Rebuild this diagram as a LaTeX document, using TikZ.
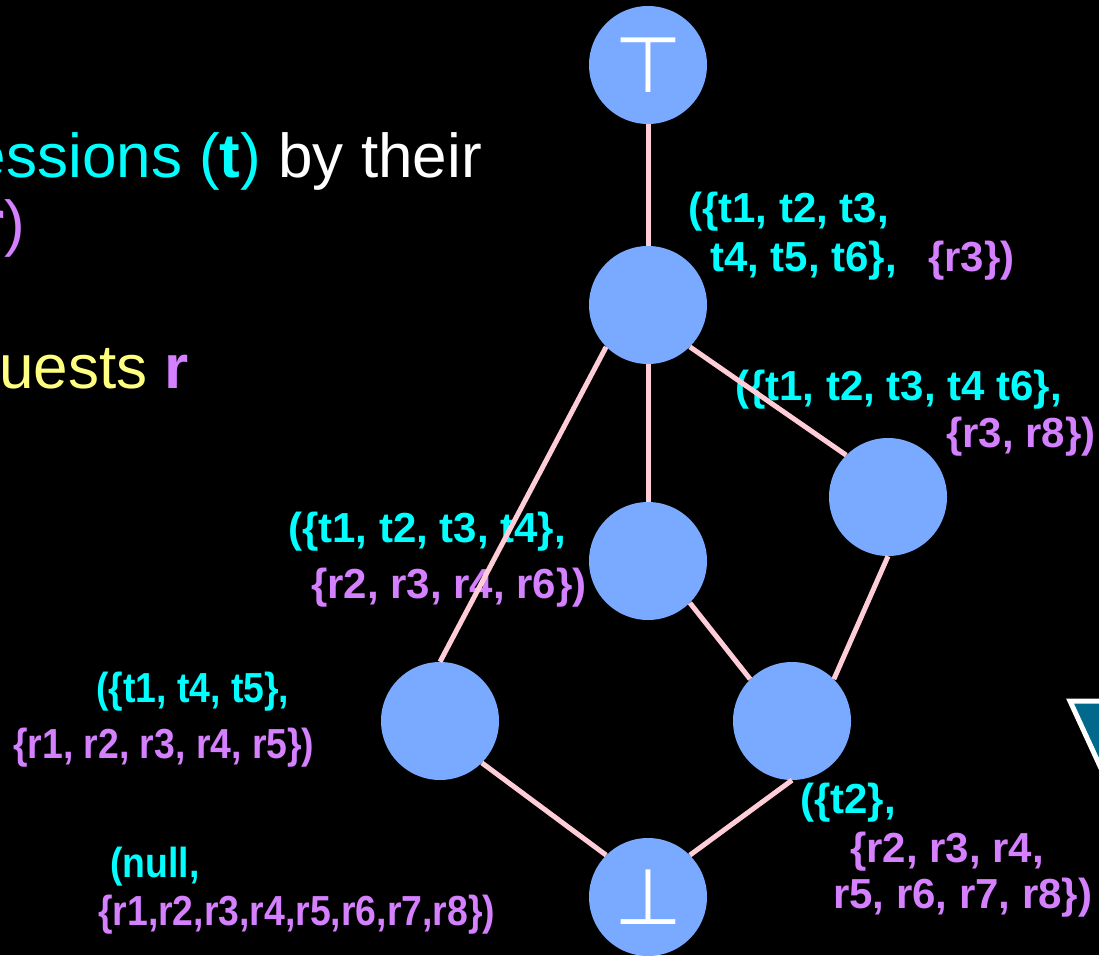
\documentclass[tikz,border=0pt]{standalone}
\usepackage{fontspec}
\setmainfont{Liberation Sans}
\newfontfamily\symfont{DejaVu Sans}
\newfontfamily\narrowfont[FakeStretch=0.89]{Liberation Sans}
\usetikzlibrary{positioning}
\definecolor{latcyan}{RGB}{0,255,255}
\definecolor{latpurple}{RGB}{213,128,255}
\definecolor{latyellow}{RGB}{255,255,128}
\definecolor{latblue}{RGB}{122,170,255}
\definecolor{latpink}{RGB}{255,205,215}
\definecolor{latteal}{RGB}{0,105,140}
\tikzset{
  latnode/.style={circle,fill=latblue,minimum size=118pt,inner sep=0pt,
    text=white,font=\symfont\fontsize{78}{78}\selectfont},
  latedge/.style={draw=latpink,line width=5pt},
  tlab/.style={anchor=base west,inner sep=0pt,text=latcyan,
    font=\bfseries\fontsize{42}{42}\selectfont},
  rlab/.style={tlab,text=latpurple},
  narrow/.style={font=\narrowfont\bfseries\fontsize{42}{42}\selectfont},
  bigtext/.style={inner sep=0pt,font=\fontsize{62}{62}\selectfont},
}
\begin{document}
\begin{tikzpicture}[x=1pt,y=-1pt]
  \fill[black] (0,0) rectangle (1099,955);
  \useasboundingbox (0,0) rectangle (1099,955);
  % --- slide text, cut at the left edge ---
  \node[bigtext,anchor=base east] (line1) at (482,177)
    {\textcolor{latcyan}{essions (\textbf{t})} \textcolor{white}{by their}};
  \node[bigtext,anchor=base east,text=latpurple] (line2) at (25,244) {\textbf{r})};
  \node[bigtext,anchor=base west] (line3) at (-1,388)
    {\textcolor{latyellow}{uests} \textcolor{latpurple}{\textbf{r}}};
  % --- triangle at the right edge ---
  \draw[draw=white,line width=5pt,fill=latteal] (1070,701) -- (1253,701) -- (1162,901) -- cycle;
  % --- labels ---
  \foreach \name/\x/\y/\txt in {a1/688/222/{(\{t1, t2, t3,},a2/710/271/{t4, t5, t6\},},
      b1/735/400/{(\{t1, t2, t3, t4 t6\},},c1/288/542/{(\{t1, t2, t3, t4\},},e1/800/813/{(\{t2\},}}{
    \node[tlab] (\name) at (\x,\y) {\txt};}
  \foreach \name/\x/\y/\txt in {d1/96/702/{(\{t1, t4, t5\},},n1/110/877/{(null,}}{
    \node[tlab,narrow] (\name) at (\x,\y) {\txt};}
  \foreach \name/\x/\y/\txt in {a3/928/271/{\{r3\})},b2/946/447/{\{r3, r8\})},
      c2/311/598/{\{r2, r3, r4, r6\})},e2/850/862/{\{r2, r3, r4,},e3/833/908/{r5, r6, r7, r8\})}}{
    \node[rlab] (\name) at (\x,\y) {\txt};}
  \foreach \name/\x/\y/\txt in {d2/13/758/{\{r1, r2, r3, r4, r5\})},n2/98/925/{\{r1,r2,r3,r4,r5,r6,r7,r8\})}}{
    \node[rlab,narrow] (\name) at (\x,\y) {\txt};}
  % --- lattice ---
  \node[latnode] (top) at (648,65) {⊤};
  \node[latnode] (a) at (648,305) {};
  \node[latnode] (b) at (888,497) {};
  \node[latnode] (c) at (648,561) {};
  \node[latnode] (d) at (440,721) {};
  \node[latnode] (e) at (792,721) {};
  \node[latnode] (bot) at (648,897) {⊥};
  \foreach \u/\v in {top.south/a.north,a.south west/d.north,a.south/c.north,
      a.south east/b.north west,c.south east/e.north west,b.south/e.north east,
      d.south east/bot.north west,e.south/bot.north east}{
    \draw[latedge] (\u) -- (\v);}
\end{tikzpicture}
\end{document}
